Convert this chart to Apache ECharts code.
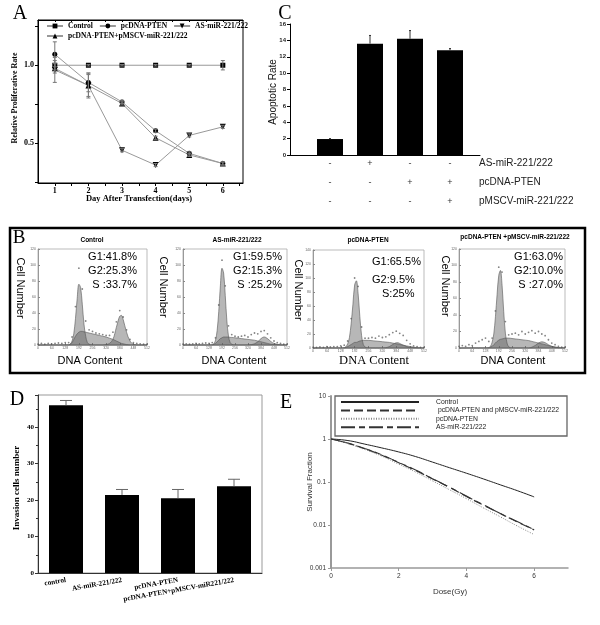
<!DOCTYPE html>
<html><head><meta charset="utf-8">
<script src="https://cdn.jsdelivr.net/npm/echarts@6/dist/echarts.min.js"></script>
<style>html,body{margin:0;padding:0;background:#fff}#c{width:600px;height:625px}</style>
</head><body><div id="c"></div><script>
// ---------- Panel A : proliferation ----------
const aDays = [1, 2, 3, 4, 5, 6];
const aControl = [1.0, 1.0, 1.0, 1.0, 1.0, 1.0];
const aPten = [1.07, 0.89, 0.765, 0.58, 0.435, 0.37];
const aAs = [0.97, 0.87, 0.455, 0.36, 0.55, 0.605];
const aCombo = [0.98, 0.87, 0.755, 0.535, 0.425, 0.37];
const aControlErr = [0.03, 0.005, 0.005, 0.005, 0.005, 0.03];
const aPtenErr = [0.08, 0.06, 0.01, 0.01, 0.01, 0.01];
const aAsErr = [0.08, 0.07, 0.01, 0.01, 0.01, 0.01];
const aComboErr = [0.03, 0.08, 0.01, 0.01, 0.01, 0.01];
const aNames = ['Control', 'pcDNA-PTEN', 'AS-miR-221/222', 'pcDNA-PTEN+pMSCV-miR-221/222'];

// ---------- Panel C : apoptosis ----------
const cPos = [1, 2, 3, 4];
const cVals = [1.95, 13.6, 14.2, 12.8];
const cErr = [0.05, 1.0, 1.0, 0.2];
const cAsSign = ['-', '+', '-', '-'];
const cPtenSign = ['-', '-', '+', '+'];
const cPmscvSign = ['-', '-', '-', '+'];
const cRowNames = ['AS-miR-221/222', 'pcDNA-PTEN', 'pMSCV-miR-221/222'];

// ---------- Panel B : cell-cycle histograms ----------
const histCh = [0,32,64,96,112,128,144,152,160,168,176,184,192,200,208,216,224,232,240,256,272,288,304,320,336,352,368,376,384,392,400,416,432,448,480,512];
const rawCh = [0,16,32,48,64,80,96,112,128,144,160,176,192,208,224,240,256,272,288,304,320,336,352,368,384,400,416,432,448,464,480,496,512];
const ctlG1 = [0,0,0,0,0,0,0.3,1.3,5,14,33,58,76,72,51,26,11,3,1,0,0,0,0,0,0,0,0,0,0,0,0,0,0,0,0,0];
const ctlS  = [0,0,0,0,0,0,0,1,3,7,11,14,16,17,17,16.5,16,15.5,15,14,13,12,11,10,8.5,7,5,4,3,2,1.5,0.5,0,0,0,0];
const ctlG2 = [0,0,0,0,0,0,0,0,0,0,0,0,0,0,0,0,0,0,0,0,0,0,0,0.5,2,7,22,30,36,37,32,16,5,1,0,0];
const ctlRaw = [1,2,1,2,1.5,2,2.5,2,3,3,10,48,96,70,30,19,17,15,14,13,12,12,16,29,43,35,19,7,3,2,1.5,1,1];
const asG1 = [0,0,0,0,0,0,0.3,1.5,6,18,42,74,96,90,62,30,11,3,1,0,0,0,0,0,0,0,0,0,0,0,0,0,0,0,0,0];
const asS  = [0,0,0,0,0,0,0,1,2,4,6,8,9,10,10,10,10,9.5,9.5,9,8.5,8,7.5,7,6.5,6,5,4.5,4,3.5,3,2,1,0.5,0,0];
const asG2 = [0,0,0,0,0,0,0,0,0,0,0,0,0,0,0,0,0,0,0,0,0,0,0,0,0.5,1.5,4,6,8,9.5,10,8,4.5,2,0.3,0];
const asRaw = [1,1.5,1,1.5,2,1.5,2,2.5,2,3,9,50,106,74,24,13,11,10,11,12,10,13,15,14,17,18,14,9,5,3,2,1,1];
const ptG1 = [0,0,0,0,0,0,0.5,2,6,15,35,62,90,96,78,45,18,5,1.5,0,0,0,0,0,0,0,0,0,0,0,0,0,0,0,0,0];
const ptS  = [0,0,0,0,0,0,0,1,2,3.5,5,6.5,8,8,9,10,10.5,11,11,11,10.5,10,9.5,9,8.5,8,7,6.5,6,5.5,5,4,3,2,0.5,0];
const ptG2 = [0,0,0,0,0,0,0,0,0,0,0,0,0,0,0,0,0,0,0,0,0,0,0,0,0.5,2,5,6.5,7.5,7.5,6.5,4,2,0.7,0,0];
const ptRaw = [1,1,1.5,1,2,1.5,2,2,3,4,10,42,100,88,30,14,14,15,14,17,15,16,19,22,24,21,18,11,6,3,2,1,1];
const cbG1 = [0,0,0,0,0,0,0.5,2,7,17,38,65,88,94,76,44,18,6,1.5,0,0,0,0,0,0,0,0,0,0,0,0,0,0,0,0,0];
const cbS  = [0,0,0,0,0,0,0,1,2,4,6,8,9.5,10.5,11,11.5,12,12,12,11.5,11,10.5,10,9.5,9,8,7,6.5,6,5.5,5,4,3,2,0.5,0];
const cbG2 = [0,0,0,0,0,0,0,0,0,0,0,0,0,0,0,0,0,0,0,0,0,0,0,0,0,1,3,4.5,6,7,7.5,6.5,4,2,0.4,0];
const cbRaw = [2,3,2,4,3,6,8,10,12,8,12,45,98,92,32,16,17,18,16,20,17,19,21,18,20,17,15,10,6,4,2,1,1];
const histTitles = ['Control', 'AS-miR-221/222', 'pcDNA-PTEN', 'pcDNA-PTEN +pMSCV-miR-221/222'];
const histStats = [
  ['G1:41.8%', 'G2:25.3%', 'S :33.7%'],
  ['G1:59.5%', 'G2:15.3%', 'S :25.2%'],
  ['G1:65.5%', 'G2:9.5%', 'S:25%'],
  ['G1:63.0%', 'G2:10.0%', 'S :27.0%']
];
const histYMax = [120, 120, 140, 120];

// ---------- Panel D : invasion ----------
const dCats = ['control', 'AS-miR-221/222', 'pcDNA-PTEN', 'pcDNA-PTEN+pMSCV-miR221/222'];
const dVals = [46.0, 21.4, 20.5, 23.8];
const dErr = [1.3, 1.5, 2.4, 1.9];

// ---------- Panel E : survival ----------
const eDose = [0, 0.5, 1, 1.5, 2, 2.5, 3, 3.5, 4, 4.5, 5, 5.5, 6];
const eControl = [1, 0.92, 0.76, 0.62, 0.5, 0.39, 0.29, 0.215, 0.16, 0.118, 0.086, 0.063, 0.045];
const eCombo = [1, 0.8, 0.59, 0.42, 0.28, 0.185, 0.118, 0.075, 0.046, 0.029, 0.0185, 0.0118, 0.0077];
const ePten = [1, 0.78, 0.57, 0.4, 0.26, 0.17, 0.106, 0.066, 0.041, 0.025, 0.0155, 0.0095, 0.006];
const eAs = [1, 0.8, 0.6, 0.43, 0.285, 0.19, 0.12, 0.076, 0.047, 0.0295, 0.0185, 0.012, 0.0078];
const eLegend = {'E:Control':'Control', 'E:Combo':' pcDNA-PTEN and pMSCV-miR-221/222', 'E:PTEN':'pcDNA-PTEN', 'E:AS':'AS-miR-221/222'};

const SERIF = '"Liberation Serif","Times New Roman",serif';
const SANS = '"Liberation Sans",Arial,sans-serif';

function errBars(xi, yi, xs, ys, es, capW, upOnly, color) {
  return {
    type: 'custom', xAxisIndex: xi, yAxisIndex: yi, silent: true, z: 6,
    data: xs.map((x, i) => [x, ys[i], es[i]]),
    renderItem(params, api) {
      const x = api.value(0), y = api.value(1), e = api.value(2);
      const t = api.coord([x, y + e]);
      const b = api.coord([x, upOnly ? y : y - e]);
      const st = {stroke: color, lineWidth: 1};
      const ch = [
        {type: 'line', shape: {x1: t[0], y1: t[1], x2: b[0], y2: b[1]}, style: st},
        {type: 'line', shape: {x1: t[0] - capW, y1: t[1], x2: t[0] + capW, y2: t[1]}, style: st}
      ];
      if (!upOnly) ch.push({type: 'line', shape: {x1: b[0] - capW, y1: b[1], x2: b[0] + capW, y2: b[1]}, style: st});
      return {type: 'group', children: ch};
    }
  };
}

const grids = [
  {left: 38, top: 20, width: 205, height: 163, show: true, borderColor: '#000', borderWidth: 1},   // A
  {left: 290, top: 24, width: 190, height: 131},                                                    // C
  {left: 38, top: 249, width: 109, height: 96, show: true, borderColor: '#aaa', borderWidth: 0.8}, // B1
  {left: 183, top: 249, width: 104, height: 96, show: true, borderColor: '#aaa', borderWidth: 0.8},// B2
  {left: 313, top: 250, width: 111, height: 98, show: true, borderColor: '#aaa', borderWidth: 0.8},// B3
  {left: 459, top: 249, width: 106, height: 99, show: true, borderColor: '#aaa', borderWidth: 0.8},// B4
  {left: 38, top: 395, width: 224, height: 178, show: true, borderColor: '#999', borderWidth: 1},  // D
  {left: 331, top: 396, width: 237, height: 172}                                                    // E
];

const halfTicks = [1, 1.5, 2, 2.5, 3, 3.5, 4, 4.5, 5, 5.5, 6, 6.5];
const xAxes = [
  {gridIndex: 0, type: 'value', min: 0.5, max: 6.6,
    axisLine: {lineStyle: {color: '#000', width: 1}},
    axisTick: {customValues: halfTicks, length: 3, lineStyle: {color: '#000'}},
    axisLabel: {customValues: aDays, fontFamily: SERIF, fontWeight: 'bold', fontSize: 8, color: '#000', margin: 4},
    splitLine: {show: false}},
  {gridIndex: 0, type: 'value', position: 'top', min: 0.5, max: 6.6,
    axisLine: {lineStyle: {color: '#000', width: 1}},
    axisTick: {customValues: halfTicks, inside: true, length: 2, lineStyle: {color: '#000'}},
    axisLabel: {show: false}, splitLine: {show: false}},
  {gridIndex: 1, type: 'value', min: 0, max: 4.75, interval: 1,
    axisLine: {lineStyle: {color: '#000', width: 1}}, axisTick: {show: false},
    axisLabel: {showMaxLabel: false, fontFamily: SANS, fontSize: 9, color: '#333', lineHeight: 19, margin: -1,
      formatter: v => (v >= 1 && v <= 4 && Number.isInteger(v)) ? [cAsSign[v - 1], cPtenSign[v - 1], cPmscvSign[v - 1]].join('\n') : ''},
    splitLine: {show: false}}
];
const yAxes = [
  {gridIndex: 0, type: 'value', min: 0.245, max: 1.29,
    axisLine: {show: true, lineStyle: {color: '#000', width: 1}},
    axisTick: {show: true, customValues: [0.25, 0.5, 0.75, 1.0, 1.25], length: 3, lineStyle: {color: '#000'}},
    axisLabel: {customValues: [0.5, 1.0], formatter: v => v.toFixed(1), fontFamily: SERIF, fontWeight: 'bold', fontSize: 8, color: '#000', margin: 4},
    splitLine: {show: false}},
  {gridIndex: 1, type: 'value', min: 0, max: 16, interval: 2,
    axisLine: {show: true, lineStyle: {color: '#000', width: 1}},
    axisTick: {show: true, length: 3, lineStyle: {color: '#000'}},
    axisLabel: {fontFamily: SANS, fontWeight: 'bold', fontSize: 6, color: '#222', margin: 4},
    splitLine: {show: false}}
];
for (let k = 0; k < 4; k++) {
  xAxes.push({gridIndex: 2 + k, type: 'value', min: 0, max: 512, interval: 64,
    axisLine: {lineStyle: {color: '#888', width: 0.8}},
    axisTick: {inside: true, length: 2, lineStyle: {color: '#888'}},
    axisLabel: {fontSize: 3.5, color: '#666', margin: 1.5, fontFamily: SANS},
    splitLine: {show: false}});
  yAxes.push({gridIndex: 2 + k, type: 'value', min: 0, max: histYMax[k], interval: 20,
    axisLine: {show: true, lineStyle: {color: '#888', width: 0.8}},
    axisTick: {show: true, inside: true, length: 2, lineStyle: {color: '#888'}},
    axisLabel: {fontSize: 3.5, color: '#666', margin: 2, fontFamily: SANS},
    splitLine: {show: false}});
}
xAxes.push({gridIndex: 6, type: 'category', data: dCats, boundaryGap: true,
  axisLine: {lineStyle: {color: '#333', width: 1}},
  axisTick: {alignWithLabel: true, length: 3, lineStyle: {color: '#333'}},
  axisLabel: {interval: 0, rotate: 10, fontFamily: SERIF, fontWeight: 'bold', fontSize: 7.2, color: '#000', margin: 7},
  splitLine: {show: false}});
yAxes.push({gridIndex: 6, type: 'value', min: 0, max: 48.8, interval: 10,
  axisLine: {show: true, lineStyle: {color: '#333', width: 1}},
  axisTick: {show: true, length: 3, lineStyle: {color: '#333'}},
  minorTick: {show: true, splitNumber: 2, length: 2, lineStyle: {color: '#333'}},
  axisLabel: {showMaxLabel: false, fontFamily: SERIF, fontWeight: 'bold', fontSize: 7, color: '#000', margin: 4},
  splitLine: {show: false}});
xAxes.push({gridIndex: 7, type: 'value', min: 0, max: 7, interval: 2,
  axisLine: {lineStyle: {color: '#999', width: 1.5}},
  axisTick: {length: 3, lineStyle: {color: '#999'}},
  axisLabel: {showMaxLabel: false, fontFamily: SANS, fontSize: 6.5, color: '#333', margin: 5},
  splitLine: {show: false}});
yAxes.push({gridIndex: 7, type: 'log', logBase: 10, min: 0.001, max: 10,
  axisLine: {show: true, lineStyle: {color: '#999', width: 2}},
  axisTick: {show: true, length: 3, lineStyle: {color: '#999'}},
  axisLabel: {fontFamily: SANS, fontSize: 6.5, color: '#333', margin: 5, formatter: v => String(Number(v.toPrecision(1)))},
  splitLine: {show: false}});

const series = [];
// A
const aSets = [[aControl, 'rect', 5, 0], [aPten, 'circle', 5, 0], [aAs, 'triangle', 6, 180], [aCombo, 'triangle', 6, 0]];
aSets.forEach((s, i) => {
  series.push({name: aNames[i], type: 'line', xAxisIndex: 0, yAxisIndex: 0,
    data: aDays.map((d, j) => [d, s[0][j]]), symbol: s[1], symbolSize: s[2], symbolRotate: s[3],
    itemStyle: {color: '#000'}, lineStyle: {color: '#999', width: 1}, z: 4});
});
series.push(errBars(0, 0, aDays, aControl, aControlErr, 2, false, '#777'));
series.push(errBars(0, 0, aDays, aPten, aPtenErr, 2, false, '#777'));
series.push(errBars(0, 0, aDays, aAs, aAsErr, 2, false, '#777'));
series.push(errBars(0, 0, aDays, aCombo, aComboErr, 2, false, '#777'));
// C
series.push({type: 'bar', xAxisIndex: 2, yAxisIndex: 1, data: cPos.map((x, i) => [x, cVals[i]]),
  barWidth: 26, itemStyle: {color: '#000'}});
series.push(errBars(2, 1, cPos, cVals, cErr, 1, true, '#333'));
// B
const hists = [[ctlG1, ctlS, ctlG2, ctlRaw], [asG1, asS, asG2, asRaw], [ptG1, ptS, ptG2, ptRaw], [cbG1, cbS, cbG2, cbRaw]];
hists.forEach((h, k) => {
  [h[0], h[1], h[2]].forEach(arr => {
    series.push({type: 'line', xAxisIndex: 3 + k, yAxisIndex: 2 + k, data: histCh.map((c, i) => [c, arr[i]]),
      symbol: 'none', smooth: 0.35, lineStyle: {color: '#555', width: 0.6},
      areaStyle: {color: '#606060', opacity: 0.45}, silent: true});
  });
  series.push({type: 'scatter', xAxisIndex: 3 + k, yAxisIndex: 2 + k, data: rawCh.map((c, i) => [c, h[3][i]]),
    symbolSize: 1.8, itemStyle: {color: '#666'}, silent: true});
});
// D
series.push({type: 'bar', xAxisIndex: 7, yAxisIndex: 6, data: dVals, barWidth: 34, itemStyle: {color: '#000'}});
series.push(errBars(7, 6, dCats, dVals, dErr, 6, true, '#666'));
// E
const eSets = [['E:Control', eControl, 'solid', '#222', 1], ['E:Combo', eCombo, [9, 4], '#333', 1.2],
  ['E:PTEN', ePten, [1, 1.5], '#888', 1], ['E:AS', eAs, [14, 4, 6, 4], '#333', 1.1]];
eSets.forEach(s => {
  series.push({name: s[0], type: 'line', xAxisIndex: 8, yAxisIndex: 7, data: eDose.map((d, i) => [d, s[1][i]]),
    symbol: 'none', smooth: true, lineStyle: {type: s[2], color: s[3], width: s[4]}, itemStyle: {color: s[3]}});
});

function txt(text, x, y, font, opts) {
  opts = opts || {};
  return {type: 'text', x: x, y: y, rotation: opts.rot || 0, z: 50,
    style: {text: text, font: font, fill: opts.fill || '#000', textAlign: opts.align || 'center', textVerticalAlign: 'middle'}};
}
const g = [];
g.push({type: 'rect', shape: {x: 10, y: 228, width: 575, height: 145}, style: {fill: 'none', stroke: '#000', lineWidth: 2.5}, z: 40});
g.push({type: 'rect', shape: {x: 335, y: 396, width: 232, height: 40}, style: {fill: 'none', stroke: '#666', lineWidth: 1.3}, z: 40});
g.push(txt('A', 20, 14, '20px ' + SERIF));
g.push(txt('C', 285, 14, '20px ' + SERIF));
g.push(txt('B', 19, 238, '19px ' + SERIF));
g.push(txt('D', 17, 400, '20px ' + SERIF));
g.push(txt('E', 286, 403, '20px ' + SERIF));
g.push(txt('Relative Proliferative Rate', 15, 98, 'bold 8px ' + SERIF, {rot: Math.PI / 2}));
g.push(txt('Day After Transfection(days)', 139, 199, 'bold 8.5px ' + SERIF));
g.push(txt('Apoptotic Rate', 273, 92, '10px ' + SANS, {rot: Math.PI / 2, fill: '#111'}));
cRowNames.forEach((n, i) => g.push(txt(n, 479, 163 + 19 * i, '10px ' + SANS, {align: 'left', fill: '#222'})));
// B texts
const bTitleX = [92, 237, 368, 515], bTitleY = [240, 240, 240, 237];
const bCellX = [20, 163, 298, 445], bCellY = [288, 287, 290, 286];
const bDnaX = [90, 234, 374, 513];
histTitles.forEach((t, k) => {
  g.push(txt(t, bTitleX[k], bTitleY[k], 'bold 6.5px ' + SANS));
  g.push(txt('Cell Number', bCellX[k], bCellY[k], '11px ' + SANS, {rot: -Math.PI / 2}));
  g.push(txt('DNA Content', bDnaX[k], 361, k === 2 ? '12.5px ' + SERIF : '11px ' + SANS));
});
const statRight = [137, 282, null, 563];
[0, 1, 3].forEach(k => {
  histStats[k].forEach((s, i) => g.push(txt(s, statRight[k], [257, 271, 285][i], '11px ' + SANS, {align: 'right'})));
});
g.push(txt(histStats[2][0], 372, 262, '11px ' + SANS, {align: 'left'}));
g.push(txt(histStats[2][1], 372, 280, '11px ' + SANS, {align: 'left'}));
g.push(txt(histStats[2][2], 382, 294, '11px ' + SANS, {align: 'left'}));
// D / E titles
g.push(txt('Invasion cells number', 17, 488, 'bold 9px ' + SERIF, {rot: Math.PI / 2}));
g.push(txt('Survival Fraction', 310, 482, '8px ' + SANS, {rot: Math.PI / 2, fill: '#333'}));
g.push(txt('Dose(Gy)', 450, 592, '8px ' + SANS, {fill: '#333'}));

const aLegendText = {fontFamily: SERIF, fontWeight: 'bold', fontSize: 7.5, color: '#000'};
const option = {
  animation: false,
  backgroundColor: '#fff',
  grid: grids, xAxis: xAxes, yAxis: yAxes, series: series,
  legend: [
    {data: aNames.slice(0, 3), left: 46, top: 22, itemWidth: 16, itemHeight: 6, itemGap: 6, padding: 0, selectedMode: false,
      textStyle: aLegendText},
    {data: [aNames[3]], left: 46, top: 32, itemWidth: 16, itemHeight: 6, padding: 0, selectedMode: false,
      textStyle: aLegendText},
    {data: ['E:Control', 'E:Combo', 'E:PTEN', 'E:AS'], orient: 'vertical', left: 340, top: 398, itemWidth: 78, itemHeight: 6,
      itemGap: 0.4, padding: 0, selectedMode: false, formatter: n => eLegend[n],
      itemStyle: {color: 'rgba(0,0,0,0)', borderWidth: 0, opacity: 0},
      textStyle: {fontFamily: SANS, fontSize: 6.8, color: '#222', lineHeight: 8, padding: [0, 0, 0, 12]}}
  ],
  graphic: {elements: g}
};
const chart = echarts.init(document.getElementById('c'));
chart.setOption(option);
</script></body></html>
